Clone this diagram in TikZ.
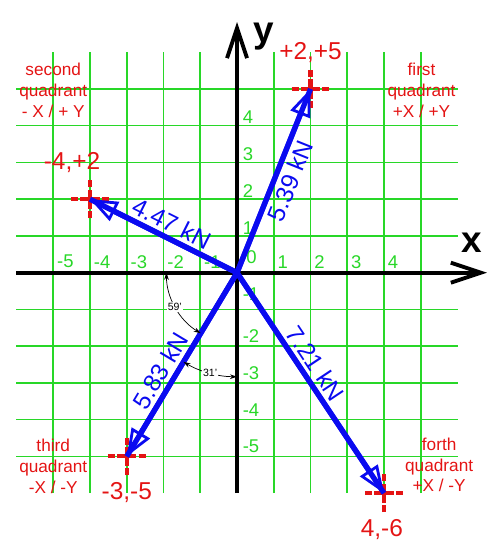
\documentclass[tikz,border=0pt]{standalone}
\usepackage{fontspec}
\setmainfont{Liberation Sans}
\usetikzlibrary{arrows.meta, positioning}
\definecolor{gridGreen}{RGB}{40, 215, 40}
\definecolor{forceBlue}{RGB}{10, 10, 240}
\definecolor{markRed}{RGB}{228, 20, 20}

\begin{document}
\begin{tikzpicture}[
    x=0.735cm, y=0.735cm,
    gridline/.style={gridGreen, line width=0.9pt},
    axis/.style={line width=2.2pt, -{Straight Barb[length=0.6cm, width=0.4cm, line width=2.2pt]}},
    axisName/.style={font=\fontsize{21}{24}\selectfont\bfseries, inner sep=0pt},
    tickLabel/.style={gridGreen, font=\fontsize{10.5}{12}\selectfont, inner sep=1pt, anchor=west},
    force/.style={forceBlue, line width=3pt, -{Triangle[open, length=0.55cm, width=0.42cm, line width=1.6pt]}, postaction={draw, -}},
    forceLabel/.style={forceBlue, font=\fontsize{13.9}{16}\selectfont, inner sep=2pt, sloped},
    crossMark/.style={markRed, line width=2.3pt, dash pattern=on 4pt off 1.3pt on 11pt off 1.3pt on 4pt},
    pointLabel/.style={markRed, font=\fontsize{13.9}{16}\selectfont, inner sep=0pt},
    quadrant/.style={markRed, align=center, font=\fontsize{9.8}{11.9}\selectfont, inner sep=0pt},
    angleArc/.style={black, line width=0.4pt, {Stealth[length=4pt, width=2.6pt]}-{Stealth[length=4pt, width=2.6pt]}},
    angleLabel/.style={fill=white, inner sep=0.6pt, font=\fontsize{6}{7}\selectfont}
]
    \useasboundingbox (-6.449,-7.654) rectangle (7.156,7.420);

    % Grid
    \foreach \i in {-5,...,-1,1,2,3,4,5} {
        \draw[gridline] (-6,\i) -- (6,\i);
        \draw[gridline] (\i,-6) -- (\i,6);
    }

    % Axes
    \coordinate (xStart) at (-6,0);
    \coordinate (xEnd) at (6.8,0);
    \coordinate (yStart) at (0,-6);
    \coordinate (yEnd) at (0,6.82);
    \draw[axis] (xStart) -- (xEnd);
    \draw[axis] (yStart) -- (yEnd);
    \node[axisName] (xName) at (6.39,0.81) {x};
    \node[axisName] (yName) at (0.73,6.42) {y};

    % Tick labels
    \foreach \x in {-5,...,-1,1,2,3,4}
        \node[tickLabel] (xTick\x) at (\x+0.05,0.3) {\x};
    \node[tickLabel] (zeroTick) at (0.2,0.43) {0};
    \foreach \y in {1,2,3,4}
        \node[tickLabel] (yTick\y) at (0.1,\y+0.22) {\y};
    \foreach \y in {-5,...,-2}
        \node[tickLabel] (yTickNeg\y) at (0.1,\y+0.27) {\y};
    \node[tickLabel] (yTickNegOne) at (0.1,-0.58) {-1};

    % Points
    \coordinate (origin) at (0,0);
    \coordinate (ptA) at (2,5);
    \coordinate (ptB) at (-4,2);
    \coordinate (ptC) at (-3,-5);
    \coordinate (ptD) at (4,-6);
    \foreach \p in {ptA,ptB,ptC,ptD}
        \draw[crossMark] ([xshift=-0.38cm]\p) -- ([xshift=0.38cm]\p)
                         ([yshift=-0.38cm]\p) -- ([yshift=0.38cm]\p);

    \node[pointLabel] (ptAName) at (2.0,5.98) {+2,+5};
    \node[pointLabel] (ptBName) at (-4.49,2.99) {-4,+2};
    \node[pointLabel] (ptCName) at (-3.0,-5.99) {-3,-5};
    \node[pointLabel] (ptDName) at (3.94,-7.0) {4,-6};

    % Quadrants
    \node[quadrant] (firstQ) at (5.02,4.97) {first\\quadrant\\+X / +Y};
    \node[quadrant] (secondQ) at (-5.0,4.97) {second\\quadrant\\- X / + Y};
    \node[quadrant] (thirdQ) at (-5.0,-5.27) {third\\quadrant\\-X / -Y};
    \node[quadrant] (forthQ) at (5.5,-5.23) {forth\\quadrant\\+X / -Y};

    % Forces
    \draw[force] (origin) -- node[forceLabel, below, pos=0.53] {5.39 kN} (ptA);
    \draw[force] (origin) -- node[forceLabel, above, pos=0.49] {4.47 kN} (ptB);
    \draw[force] (origin) -- node[forceLabel, above, pos=0.575] {5.83 kN} (ptC);
    \draw[force] (origin) -- node[forceLabel, above, pos=0.45] {7.21 kN} (ptD);

    % Angles
    \draw[angleArc] (180:1.92) arc[start angle=180, end angle=239.04, radius=1.92];
    \node[angleLabel] (angleWide) at (208.7:1.93) {59'};
    \draw[angleArc] (239.04:2.83) arc[start angle=239.04, end angle=270, radius=2.83];
    \node[angleLabel] (angleNarrow) at (255:2.83) {31'};
\end{tikzpicture}
\end{document}
